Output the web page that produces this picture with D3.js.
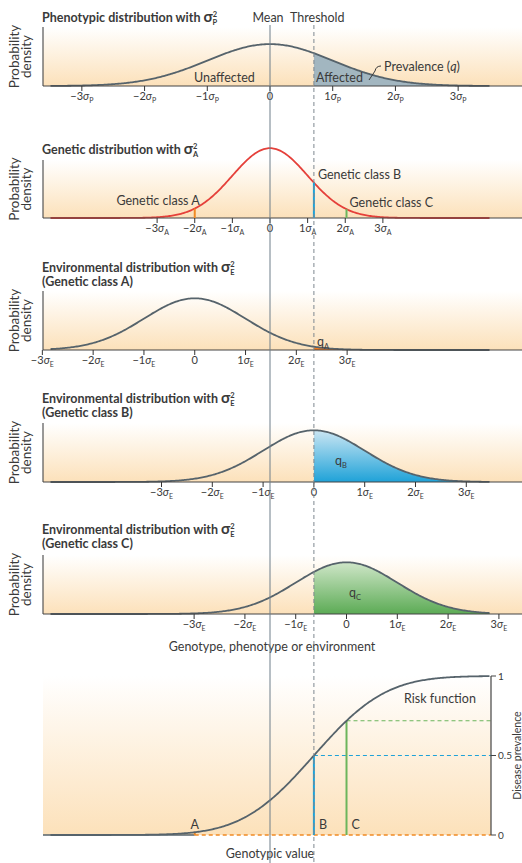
<!DOCTYPE html>
<html>
<head>
<meta charset="utf-8">
<script src="https://cdn.jsdelivr.net/npm/d3@7"></script>
<style>
	body { margin: 0; background: #fff; }
	text { font-family: Lato, "Open Sans", sans-serif; fill: #3a3a3a; }
</style>
</head>
<body>
<svg id="chart" width="522" height="863"></svg>
<script>
"use strict";

// Liability threshold model, everything in units of the phenotypic SD
const sigmaP = 1;
const sigmaA = 0.6;
const sigmaE = 0.81;
const threshold = 0.7;
const riskSd = 0.9;

// Genetic classes (genotypic value in sigmaP units)
const classNames = ["A", "B", "C"];
const classValues = [-1.2, 0.7, 1.22];
const classColors = ["#f08a24", "#1fa2d8", "#6cb55c"];

// Tick steps and labels
const tickSteps = [-3, -2, -1, 0, 1, 2, 3];
const prevalenceTicks = [0, 0.5, 1];
const prevalenceLabels = ["0", "0.5", "1"];

const svg = d3.select("#chart");

// Layout
const axisLeft = 43;
const plotRight = 522;
const panelTop = [27, 160, 291, 423, 555];
const panelBase = [86, 218, 350, 482, 614];
const riskTop = 676, riskBase = 835, riskRight = 491;
const fs = 12.5; // body font size

// Shared x scale (sigmaP units) and density scale
const x = d3.scaleLinear().domain([-3.5, 3.5]).range([50.5, 489.5]);
const pxPerDensity = 105;
const samples = d3.range(-3.5, 3.5001, 0.02);

function pdf(v, mu, sd) {
	const z = (v - mu) / sd;
	return Math.exp(-0.5 * z * z) / (sd * Math.sqrt(2 * Math.PI));
}

function erf(z) {
	// Abramowitz-Stegun approximation
	const s = z < 0 ? -1 : 1;
	z = Math.abs(z);
	const t = 1 / (1 + 0.3275911 * z);
	const y = 1 - ((((1.061405429 * t - 1.453152027) * t + 1.421413741) * t - 0.284496736) * t + 0.254829592) * t * Math.exp(-z * z);
	return s * y;
}

function cdf(v, mu, sd) {
	return 0.5 * (1 + erf((v - mu) / (sd * Math.SQRT2)));
}

// Gradients
const defs = svg.append("defs");
function vGrad(id, top, bottom) {
	const g = defs.append("linearGradient").attr("id", id)
		.attr("x1", 0).attr("y1", 0).attr("x2", 0).attr("y2", 1);
	g.append("stop").attr("offset", "0%").attr("stop-color", top);
	g.append("stop").attr("offset", "100%").attr("stop-color", bottom);
}
vGrad("bg", "#ffffff", "#fce1ba");
vGrad("fillB", "#cbe6f3", "#1fa2d8");
vGrad("fillC", "#cfe6c8", "#5cab55");

// Title with sigma squared
function sigmaSq(text, sub) {
	text.append("tspan").attr("dx", 3).attr("font-size", 15).attr("font-weight", "bold").text("σ");
	text.append("tspan").attr("font-size", 7.5).attr("dy", -5).attr("font-weight", "bold").text("2");
	text.append("tspan").attr("font-size", 7.5).attr("dx", -4.5).attr("dy", 8).attr("font-weight", "bold").text(sub);
}

function sigmaLabel(text, k, sub) {
	if (k == 0) {
		text.text("0");
		return;
	}
	text.append("tspan").text((k < 0 ? "\u2212" : "") + Math.abs(k));
	text.append("tspan").attr("font-style", "italic").text("σ");
	text.append("tspan").attr("font-size", 7).attr("dy", 3).text(sub);
}

function probLabel(cy) {
	const g = svg.append("g").attr("transform", "translate(0," + cy + ") rotate(-90)");
	g.append("text").attr("y", 19).attr("text-anchor", "middle").attr("font-size", 13.5).text("Probability");
	g.append("text").attr("y", 31).attr("text-anchor", "middle").attr("font-size", 13.5).text("density");
}

// Draw one distribution panel
function drawPanel(i, opt) {
	const top = panelTop[i], base = panelBase[i];
	const y = d3.scaleLinear().domain([0, 1]).range([base, base - pxPerDensity]);

	svg.append("rect")
		.attr("x", axisLeft).attr("y", top)
		.attr("width", plotRight - axisLeft).attr("height", base - top)
		.attr("fill", "url(#bg)");

	// shaded tail
	if (opt.fill) {
		const tail = samples.filter(d => d >= threshold);
		tail.unshift(threshold);
		svg.append("path")
			.datum(tail)
			.attr("fill", opt.fill)
			.attr("d", d3.area()
				.x(d => x(d))
				.y0(base)
				.y1(d => y(pdf(d, opt.mu, opt.sd))));
	}

	svg.append("path")
		.datum(samples)
		.attr("fill", "none")
		.attr("stroke", opt.stroke)
		.attr("stroke-width", 1.8)
		.attr("d", d3.line().x(d => x(d)).y(d => y(pdf(d, opt.mu, opt.sd))));

	// axes
	svg.append("line")
		.attr("x1", axisLeft).attr("x2", axisLeft)
		.attr("y1", top).attr("y2", base)
		.attr("stroke", "#555").attr("stroke-width", 1.2);
	svg.append("line")
		.attr("x1", axisLeft).attr("x2", plotRight)
		.attr("y1", base).attr("y2", base)
		.attr("stroke", "#444").attr("stroke-width", 1.2);

	const ticks = svg.append("g");
	tickSteps.forEach(function(k) {
		const tx = x(opt.tickMu + k * opt.tickSd);
		ticks.append("line")
			.attr("x1", tx).attr("x2", tx)
			.attr("y1", base).attr("y2", base + 5)
			.attr("stroke", "#333").attr("stroke-width", 1);
		ticks.append("text")
			.attr("x", tx).attr("y", base + 14)
			.attr("text-anchor", "middle")
			.attr("font-size", 11)
			.call(sigmaLabel, k, opt.sub);
	});

	// title
	const t1 = svg.append("text")
		.attr("x", 42).attr("y", opt.titleY)
		.attr("font-size", 12.5).attr("font-weight", "bold")
		.text(opt.title);
	sigmaSq(t1, opt.sub);
	if (opt.title2) {
		svg.append("text")
			.attr("x", 42).attr("y", opt.titleY + 14)
			.attr("font-size", 12.5).attr("font-weight", "bold")
			.text(opt.title2);
	}

	probLabel((top + base) / 2);
	return y;
}

// Panel 1: phenotype
drawPanel(0, {
	title: "Phenotypic distribution with", sub: "P", titleY: 22,
	mu: 0, sd: sigmaP, tickMu: 0, tickSd: sigmaP,
	stroke: "#56636b", fill: "#a2b6c0"
});
svg.append("text").attr("x", 194).attr("y", 82).attr("font-size", fs).text("Unaffected");
svg.append("text").attr("x", 316).attr("y", 82).attr("font-size", fs).text("Affected");
const prev = svg.append("text").attr("x", 384).attr("y", 71).attr("font-size", fs);
prev.append("tspan").text("Prevalence (");
prev.append("tspan").attr("font-style", "italic").text("q");
prev.append("tspan").text(")");
svg.append("path")
	.attr("d", "M381,66 q-5,0 -6,5 L369,80")
	.attr("fill", "none").attr("stroke", "#3a3a3a").attr("stroke-width", 1);

// Panel 2: genotype
const y2 = drawPanel(1, {
	title: "Genetic distribution with", sub: "A", titleY: 154,
	mu: 0, sd: sigmaA, tickMu: 0, tickSd: sigmaA,
	stroke: "#e5403a"
});
classValues.forEach(function(g, i) {
	svg.append("line")
		.attr("x1", x(g)).attr("x2", x(g))
		.attr("y1", panelBase[1]).attr("y2", y2(pdf(g, 0, sigmaA)))
		.attr("stroke", classColors[i]).attr("stroke-width", 2);
});
svg.append("text").attr("x", x(classValues[0]) + 5).attr("y", 205)
	.attr("text-anchor", "end").attr("font-size", fs).text("Genetic class A");
svg.append("text").attr("x", x(classValues[1]) + 4).attr("y", 179)
	.attr("font-size", fs).text("Genetic class B");
svg.append("text").attr("x", x(classValues[2]) + 3).attr("y", 207)
	.attr("font-size", fs).text("Genetic class C");

// Panels 3-5: environment for each genetic class
const envFills = ["#f07a20", "url(#fillB)", "url(#fillC)"];
const qLabelPos = [[317, 346], [335, 465], [349, 597]];
classValues.forEach(function(g, i) {
	drawPanel(2 + i, {
		title: "Environmental distribution with", title2: "(Genetic class " + classNames[i] + ")",
		sub: "E", titleY: [272, 403, 534][i],
		mu: g, sd: sigmaE, tickMu: g, tickSd: sigmaE,
		stroke: "#56636b", fill: envFills[i]
	});
	const q = svg.append("text")
		.attr("x", qLabelPos[i][0]).attr("y", qLabelPos[i][1])
		.attr("font-size", fs);
	q.append("tspan").text("q");
	q.append("tspan").attr("font-size", 7.5).attr("dy", 3).text(classNames[i]);
});
svg.append("text").attr("x", 272).attr("y", 651).attr("text-anchor", "middle")
	.attr("font-size", fs).text("Genotype, phenotype or environment");

// Panel 6: risk function
const y6 = d3.scaleLinear().domain([0, 1]).range([riskBase, riskTop]);
svg.append("rect")
	.attr("x", axisLeft).attr("y", riskTop)
	.attr("width", riskRight - axisLeft).attr("height", riskBase - riskTop)
	.attr("fill", "url(#bg)");
svg.append("line")
	.attr("x1", axisLeft).attr("x2", x(classValues[0]))
	.attr("y1", riskBase).attr("y2", riskBase)
	.attr("stroke", "#56636b").attr("stroke-width", 1.5);

classValues.forEach(function(g, i) {
	const r = y6(cdf(g, threshold, riskSd));
	svg.append("line")
		.attr("x1", x(g)).attr("x2", riskRight)
		.attr("y1", i == 0 ? riskBase : r).attr("y2", i == 0 ? riskBase : r)
		.attr("stroke", classColors[i]).attr("stroke-width", i == 0 ? 1.5 : 1.1)
		.attr("stroke-dasharray", "4,3");
	svg.append("line")
		.attr("x1", x(g)).attr("x2", x(g))
		.attr("y1", riskBase).attr("y2", i == 0 ? riskBase - 3 : r)
		.attr("stroke", classColors[i]).attr("stroke-width", 2);
	svg.append("text")
		.attr("x", i == 0 ? x(g) : x(g) + 5).attr("y", 829)
		.attr("text-anchor", i == 0 ? "middle" : "start")
		.attr("font-size", fs).text(classNames[i]);
});

svg.append("path")
	.datum(samples)
	.attr("fill", "none")
	.attr("stroke", "#56636b")
	.attr("stroke-width", 1.8)
	.attr("d", d3.line().x(d => x(d)).y(d => y6(cdf(d, threshold, riskSd))));

// right axis
const rAxis = svg.append("g");
rAxis.append("line")
	.attr("x1", riskRight).attr("x2", riskRight)
	.attr("y1", y6(1)).attr("y2", y6(0))
	.attr("stroke", "#444").attr("stroke-width", 1.2);
prevalenceTicks.forEach(function(v, i) {
	rAxis.append("line")
		.attr("x1", riskRight).attr("x2", riskRight + 5)
		.attr("y1", y6(v)).attr("y2", y6(v))
		.attr("stroke", "#444");
	rAxis.append("text")
		.attr("x", riskRight + 7).attr("y", y6(v) + 3.5)
		.attr("font-size", 10).text(prevalenceLabels[i]);
});
svg.append("text")
	.attr("transform", "translate(521," + y6(0.5) + ") rotate(-90)")
	.attr("text-anchor", "middle").attr("font-size", 10.5)
	.text("Disease prevalence");
svg.append("text").attr("x", 440).attr("y", 703).attr("text-anchor", "middle")
	.attr("font-size", fs).text("Risk function");
svg.append("text").attr("x", 270).attr("y", 858).attr("text-anchor", "middle")
	.attr("font-size", fs).text("Genotypic value");

// Mean and threshold lines across all panels
svg.append("line")
	.attr("x1", x(0)).attr("x2", x(0))
	.attr("y1", 25).attr("y2", 863)
	.attr("stroke", "#6f7f8a").attr("stroke-width", 1);
svg.append("line")
	.attr("x1", x(threshold)).attr("x2", x(threshold))
	.attr("y1", 25).attr("y2", 863)
	.attr("stroke", "#7d8890").attr("stroke-width", 1)
	.attr("stroke-dasharray", "4,3");
svg.append("text").attr("x", 268).attr("y", 22).attr("text-anchor", "middle")
	.attr("font-size", fs).text("Mean");
svg.append("text").attr("x", 290).attr("y", 22)
	.attr("font-size", fs).text("Threshold");
</script>
</body>
</html>
